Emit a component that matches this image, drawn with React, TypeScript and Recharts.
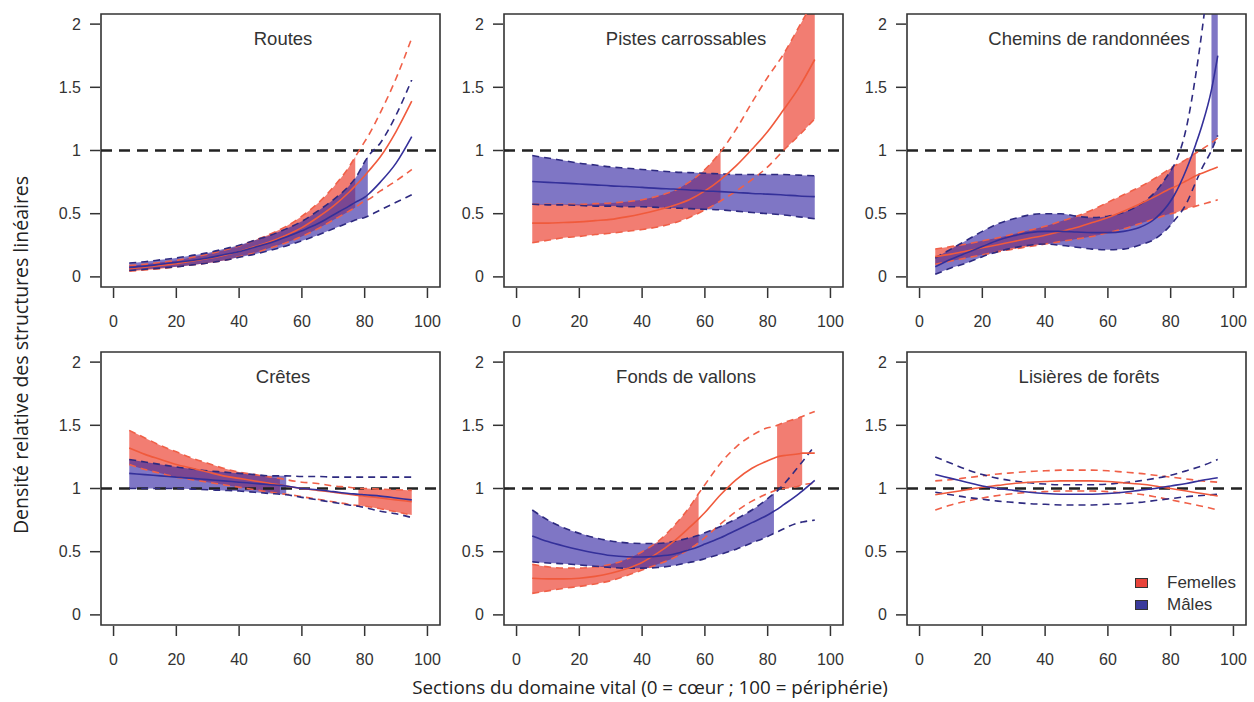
import {
  Area,
  ComposedChart,
  Legend,
  Line,
  ReferenceArea,
  ReferenceDot,
  ReferenceLine,
  XAxis,
  YAxis,
} from "recharts";

const xTicks = [0, 20, 40, 60, 80, 100];
const yTicks = [0, 0.5, 1, 1.5, 2];

// Routes
const routesX = [5, 10, 15, 20, 25, 30, 35, 40, 45, 50, 55, 60, 65, 70, 75, 77, 80, 81, 85, 90, 95];
const routesFMid = [0.065, 0.077, 0.09, 0.105, 0.125, 0.145, 0.17, 0.2, 0.24, 0.28, 0.33, 0.39, 0.47, 0.56, 0.67, 0.72, 0.8, 0.83, 0.95, 1.15, 1.39];
const routesFHigh = [0.09, 0.1, 0.115, 0.13, 0.155, 0.18, 0.21, 0.245, 0.29, 0.34, 0.4, 0.48, 0.58, 0.71, 0.87, 0.95, 1.07, 1.11, 1.3, 1.57, 1.89];
const routesFLow = [0.045, 0.055, 0.065, 0.08, 0.095, 0.11, 0.13, 0.16, 0.19, 0.23, 0.27, 0.32, 0.38, 0.45, 0.52, 0.55, 0.6, 0.61, 0.68, 0.76, 0.85];
const routesMMid = [0.075, 0.085, 0.1, 0.115, 0.13, 0.15, 0.175, 0.2, 0.235, 0.27, 0.315, 0.365, 0.42, 0.49, 0.56, 0.59, 0.63, 0.65, 0.75, 0.9, 1.11];
const routesMHigh = [0.11, 0.12, 0.135, 0.15, 0.17, 0.19, 0.22, 0.25, 0.29, 0.33, 0.38, 0.44, 0.52, 0.61, 0.72, 0.78, 0.91, 0.95, 1.06, 1.28, 1.56];
const routesMLow = [0.05, 0.06, 0.07, 0.08, 0.095, 0.11, 0.13, 0.155, 0.18, 0.21, 0.245, 0.285, 0.33, 0.38, 0.43, 0.45, 0.47, 0.48, 0.53, 0.59, 0.65];
const routesFShade: [number, number][] = [[5, 77]];
const routesMShade: [number, number][] = [[5, 81]];

// Pistes carrossables
const pistesX = [5, 10, 15, 20, 25, 30, 35, 40, 45, 50, 55, 60, 65, 70, 75, 80, 85, 90, 95];
const pistesFMid = [0.425, 0.425, 0.43, 0.435, 0.445, 0.455, 0.475, 0.5, 0.53, 0.565, 0.61, 0.68, 0.77, 0.88, 1.01, 1.15, 1.32, 1.5, 1.72];
const pistesFHigh = [0.575, 0.575, 0.575, 0.575, 0.58, 0.585, 0.595, 0.61, 0.64, 0.68, 0.75, 0.85, 0.99, 1.17, 1.38, 1.58, 1.76, 1.98, 2.2];
const pistesFLow = [0.27, 0.29, 0.31, 0.32, 0.335, 0.345, 0.36, 0.375, 0.395, 0.425, 0.47, 0.53, 0.6, 0.68, 0.77, 0.87, 1.0, 1.12, 1.25];
const pistesMMid = [0.755, 0.748, 0.742, 0.735, 0.728, 0.72, 0.715, 0.708, 0.7, 0.695, 0.688, 0.68, 0.675, 0.668, 0.66, 0.655, 0.648, 0.64, 0.635];
const pistesMHigh = [0.96, 0.94, 0.92, 0.9, 0.885, 0.87, 0.86, 0.85, 0.84, 0.83, 0.825, 0.82, 0.815, 0.81, 0.81, 0.81, 0.81, 0.805, 0.8];
const pistesMLow = [0.575, 0.57, 0.57, 0.565, 0.56, 0.56, 0.555, 0.555, 0.55, 0.545, 0.54, 0.535, 0.53, 0.52, 0.51, 0.5, 0.49, 0.475, 0.46];
const pistesFShade: [number, number][] = [[5, 65], [85, 95]];
const pistesMShade: [number, number][] = [[5, 95]];

// Chemins de randonnées
const cheminsX = [5, 10, 15, 20, 25, 30, 35, 40, 45, 50, 55, 60, 65, 70, 75, 80, 81, 85, 88, 90, 93, 95];
const cheminsFMid = [0.16, 0.18, 0.205, 0.23, 0.255, 0.28, 0.305, 0.33, 0.36, 0.39, 0.43, 0.47, 0.52, 0.575, 0.635, 0.7, 0.71, 0.76, 0.8, 0.82, 0.85, 0.87];
const cheminsFHigh = [0.22, 0.24, 0.26, 0.285, 0.31, 0.34, 0.37, 0.4, 0.44, 0.48, 0.53, 0.59, 0.65, 0.71, 0.78, 0.86, 0.875, 0.93, 0.98, 1.01, 1.06, 1.1];
const cheminsFLow = [0.1, 0.125, 0.15, 0.175, 0.2, 0.22, 0.24, 0.26, 0.28, 0.3, 0.32, 0.35, 0.38, 0.42, 0.46, 0.5, 0.505, 0.54, 0.56, 0.575, 0.595, 0.61];
const cheminsMMid = [0.08, 0.14, 0.19, 0.24, 0.29, 0.325, 0.35, 0.36, 0.36, 0.355, 0.35, 0.35, 0.36, 0.39, 0.46, 0.6, 0.64, 0.85, 1.05, 1.2, 1.48, 1.75];
const cheminsMHigh = [0.15, 0.22, 0.29, 0.36, 0.42, 0.46, 0.49, 0.5, 0.5, 0.48, 0.47, 0.48, 0.51, 0.57, 0.67, 0.84, 0.88, 1.18, 1.6, 1.95, 2.6, 3.2];
const cheminsMLow = [0.02, 0.07, 0.11, 0.16, 0.2, 0.23, 0.25, 0.26, 0.25, 0.235, 0.22, 0.215, 0.22, 0.25, 0.3, 0.41, 0.44, 0.58, 0.75, 0.86, 1.0, 1.12];
const cheminsFShade: [number, number][] = [[5, 88]];
const cheminsMShade: [number, number][] = [[5, 81], [93, 95]];

// Crêtes
const cretesX = [5, 10, 15, 20, 25, 30, 35, 40, 45, 50, 53, 55, 60, 65, 70, 75, 78, 80, 85, 90, 95];
const cretesFMid = [1.32, 1.27, 1.23, 1.19, 1.16, 1.13, 1.1, 1.08, 1.06, 1.04, 1.03, 1.02, 1.0, 0.985, 0.97, 0.955, 0.945, 0.94, 0.925, 0.91, 0.895];
const cretesFHigh = [1.46, 1.4, 1.34, 1.29, 1.24, 1.2, 1.16, 1.13, 1.11, 1.09, 1.08, 1.07, 1.05, 1.04, 1.02, 1.01, 1.0, 1.0, 0.995, 0.99, 0.985];
const cretesFLow = [1.19, 1.15, 1.12, 1.09, 1.07, 1.05, 1.03, 1.01, 0.99, 0.97, 0.96, 0.955, 0.935, 0.915, 0.895, 0.875, 0.865, 0.86, 0.84, 0.815, 0.79];
const cretesMMid = [1.12, 1.11, 1.1, 1.09, 1.08, 1.07, 1.06, 1.05, 1.04, 1.03, 1.025, 1.02, 1.0, 0.99, 0.975, 0.96, 0.955, 0.95, 0.94, 0.925, 0.91];
const cretesMHigh = [1.23, 1.21, 1.19, 1.17, 1.155, 1.14, 1.13, 1.12, 1.11, 1.1, 1.1, 1.1, 1.095, 1.095, 1.09, 1.09, 1.09, 1.09, 1.09, 1.09, 1.09];
const cretesMLow = [1.0, 1.0, 1.0, 1.0, 0.995, 0.99, 0.985, 0.98, 0.97, 0.96, 0.955, 0.95, 0.93, 0.91, 0.89, 0.87, 0.86, 0.85, 0.82, 0.8, 0.77];
const cretesFShade: [number, number][] = [[5, 53], [78, 95]];
const cretesMShade: [number, number][] = [[5, 55]];

// Fonds de vallons
const fondsX = [5, 10, 15, 20, 25, 30, 35, 40, 45, 50, 55, 58, 60, 65, 70, 75, 80, 82, 83, 85, 90, 91, 95];
const fondsFMid = [0.29, 0.285, 0.285, 0.29, 0.305, 0.33, 0.365, 0.415, 0.49, 0.58, 0.69, 0.76, 0.81, 0.95, 1.07, 1.16, 1.22, 1.24, 1.25, 1.26, 1.275, 1.28, 1.28];
const fondsFHigh = [0.4, 0.38, 0.37, 0.37, 0.38, 0.4, 0.44, 0.5, 0.58, 0.7, 0.85, 0.96, 1.03, 1.2, 1.33, 1.42, 1.48, 1.49, 1.5, 1.52, 1.56, 1.57, 1.61];
const fondsFLow = [0.17, 0.19, 0.21, 0.225, 0.245, 0.27, 0.31, 0.355, 0.4, 0.45, 0.52, 0.57, 0.61, 0.72, 0.82, 0.9, 0.96, 0.98, 0.99, 1.0, 1.02, 1.03, 1.04];
const fondsMMid = [0.625, 0.58, 0.545, 0.515, 0.49, 0.47, 0.46, 0.458, 0.465, 0.48, 0.515, 0.54, 0.56, 0.61, 0.67, 0.73, 0.79, 0.82, 0.835, 0.87, 0.96, 0.98, 1.065];
const fondsMHigh = [0.83, 0.75, 0.69, 0.645, 0.61, 0.585, 0.57, 0.565, 0.565, 0.58, 0.61, 0.63, 0.65, 0.7, 0.76, 0.83, 0.92, 0.96, 0.98, 1.03, 1.18, 1.21, 1.34];
const fondsMLow = [0.42, 0.41, 0.405, 0.395, 0.385, 0.375, 0.37, 0.37, 0.375, 0.39, 0.415, 0.43, 0.445, 0.48, 0.52, 0.57, 0.62, 0.645, 0.655, 0.68, 0.73, 0.735, 0.75];
const fondsFShade: [number, number][] = [[5, 58], [83, 91]];
const fondsMShade: [number, number][] = [[5, 82]];

// Lisières de forêts
const lisieresX = [5, 10, 15, 20, 25, 30, 35, 40, 45, 50, 55, 60, 65, 70, 75, 80, 85, 90, 95];
const lisieresFMid = [0.95, 0.97, 0.99, 1.01, 1.025, 1.04, 1.05, 1.055, 1.06, 1.06, 1.06, 1.055, 1.045, 1.035, 1.02, 1.0, 0.98, 0.96, 0.94];
const lisieresFHigh = [1.06, 1.07, 1.085, 1.1, 1.115, 1.125, 1.135, 1.14, 1.145, 1.145, 1.145, 1.14, 1.13, 1.12, 1.105, 1.09, 1.075, 1.06, 1.05];
const lisieresFLow = [0.83, 0.87, 0.9, 0.925, 0.945, 0.96, 0.97, 0.975, 0.98, 0.98, 0.98, 0.975, 0.965, 0.955, 0.935, 0.91, 0.885, 0.86, 0.83];
const lisieresMMid = [1.11, 1.08, 1.05, 1.02, 1.0, 0.985, 0.97, 0.96, 0.955, 0.955, 0.955, 0.96, 0.97, 0.985, 1.0, 1.02, 1.04, 1.065, 1.085];
const lisieresMHigh = [1.25, 1.2, 1.15, 1.11, 1.08, 1.06, 1.045, 1.035, 1.03, 1.03, 1.03, 1.035, 1.045, 1.06, 1.08, 1.105, 1.14, 1.18, 1.23];
const lisieresMLow = [0.97, 0.95, 0.93, 0.915, 0.9, 0.89, 0.88, 0.875, 0.87, 0.87, 0.87, 0.875, 0.88, 0.89, 0.905, 0.92, 0.935, 0.945, 0.955];
const lisieresFShade: [number, number][] = [];
const lisieresMShade: [number, number][] = [];

const F_FILL = "#ec4636";
const M_FILL = "#3628a4";
const F_LINE = "#f05a3c";
const M_LINE = "#34309a";
const F_DASH = "#f06048";
const M_DASH = "#2e2a80";
const TEXT = "#333333";
const SANS = "'Liberation Sans', Arial, Helvetica, sans-serif";
const TITLE_FONT = "'Open Sans', 'Noto Sans', sans-serif";

function inside(v: number, shade: [number, number][]) {
  return shade.some(([a, b]) => v >= a && v <= b);
}

function buildRows(
  x: number[],
  fLow: number[],
  fMid: number[],
  fHigh: number[],
  mLow: number[],
  mMid: number[],
  mHigh: number[],
  fShade: [number, number][],
  mShade: [number, number][]
) {
  return x.map((v, i) => ({
    x: v,
    fLow: fLow[i],
    fMid: fMid[i],
    fHigh: fHigh[i],
    mLow: mLow[i],
    mMid: mMid[i],
    mHigh: mHigh[i],
    fBand: inside(v, fShade) ? [fLow[i], fHigh[i]] : null,
    mBand: inside(v, mShade) ? [mLow[i], mHigh[i]] : null,
  }));
}

const panels = [
  { title: "Routes", rows: buildRows(routesX, routesFLow, routesFMid, routesFHigh, routesMLow, routesMMid, routesMHigh, routesFShade, routesMShade) },
  { title: "Pistes carrossables", rows: buildRows(pistesX, pistesFLow, pistesFMid, pistesFHigh, pistesMLow, pistesMMid, pistesMHigh, pistesFShade, pistesMShade) },
  { title: "Chemins de randonnées", rows: buildRows(cheminsX, cheminsFLow, cheminsFMid, cheminsFHigh, cheminsMLow, cheminsMMid, cheminsMHigh, cheminsFShade, cheminsMShade) },
  { title: "Crêtes", rows: buildRows(cretesX, cretesFLow, cretesFMid, cretesFHigh, cretesMLow, cretesMMid, cretesMHigh, cretesFShade, cretesMShade) },
  { title: "Fonds de vallons", rows: buildRows(fondsX, fondsFLow, fondsFMid, fondsFHigh, fondsMLow, fondsMMid, fondsMHigh, fondsFShade, fondsMShade) },
  { title: "Lisières de forêts", rows: buildRows(lisieresX, lisieresFLow, lisieresFMid, lisieresFHigh, lisieresMLow, lisieresMMid, lisieresMHigh, lisieresFShade, lisieresMShade) },
];

const boxLefts = [101, 504, 907];
const boxTops = [14, 352];

function XTick({ x, y, payload }: any) {
  return (
    <g>
      <line x1={x} x2={x} y1={y + 1} y2={y + 11} stroke={TEXT} strokeWidth={1.5} />
      <text x={x} y={y + 34} textAnchor="middle" dominantBaseline="central" fontSize={16} fill={TEXT} fontFamily={SANS}>
        {payload.value}
      </text>
    </g>
  );
}

function YTick({ x, y, payload }: any) {
  return (
    <g>
      <line x1={x - 11} x2={x - 1} y1={y} y2={y} stroke={TEXT} strokeWidth={1.5} />
      <text x={x - 20} y={y} textAnchor="end" dominantBaseline="central" fontSize={16} fill={TEXT} fontFamily={SANS}>
        {payload.value}
      </text>
    </g>
  );
}

function LegendBox() {
  const item = (color: string, label: string) => (
    <div style={{ display: "flex", alignItems: "center", height: 22 }}>
      <span style={{ display: "inline-block", width: 11, height: 8, background: color, border: "1px solid #333", marginRight: 19 }} />
      <span>{label}</span>
    </div>
  );
  return (
    <div style={{ fontFamily: SANS, fontSize: 17, color: TEXT }}>
      {item("#e8433a", "Femelles")}
      {item("#3a3a9c", "Mâles")}
    </div>
  );
}

function Panel({ index }: { index: number }) {
  const panel = panels[index];
  const left = boxLefts[index % 3] - 60;
  const top = boxTops[Math.floor(index / 3)] - 10;
  const dashed = { type: "monotone" as const, dot: false, activeDot: false, isAnimationActive: false, strokeWidth: 1.6, strokeDasharray: "7 5" };
  const solid = { type: "monotone" as const, dot: false, activeDot: false, isAnimationActive: false, strokeWidth: 1.6 };
  return (
    <div style={{ position: "absolute", left, top }}>
      <ComposedChart width={403} height={328} data={panel.rows} margin={{ top: 10, right: 4, bottom: 0, left: 0 }}>
        <XAxis
          type="number"
          dataKey="x"
          domain={[-4, 104]}
          ticks={xTicks}
          interval={0}
          allowDataOverflow
          axisLine={false}
          tickLine={false}
          tickSize={0}
          tickMargin={0}
          height={45}
          tick={(p: any) => <XTick {...p} />}
        />
        <YAxis
          type="number"
          domain={[-0.08, 2.08]}
          ticks={yTicks}
          interval={0}
          allowDataOverflow
          axisLine={false}
          tickLine={false}
          tickSize={0}
          tickMargin={0}
          width={60}
          tick={(p: any) => <YTick {...p} />}
        />
        <Area dataKey="fBand" type="monotone" stroke="none" fill={F_FILL} fillOpacity={0.7} activeDot={false} isAnimationActive={false} />
        <Area dataKey="mBand" type="monotone" stroke="none" fill={M_FILL} fillOpacity={0.64} activeDot={false} isAnimationActive={false} />
        <ReferenceLine y={1} stroke="#222" strokeWidth={2.6} strokeDasharray="11 7" />
        <Line dataKey="fLow" stroke={F_DASH} {...dashed} />
        <Line dataKey="fHigh" stroke={F_DASH} {...dashed} />
        <Line dataKey="mLow" stroke={M_DASH} {...dashed} />
        <Line dataKey="mHigh" stroke={M_DASH} {...dashed} />
        <Line dataKey="fMid" stroke={F_LINE} {...solid} />
        <Line dataKey="mMid" stroke={M_LINE} {...solid} />
        <ReferenceArea x1={-4} x2={104} y1={-0.08} y2={2.08} fill="none" stroke={TEXT} strokeWidth={1.6} ifOverflow="visible" />
        <ReferenceDot
          x={54}
          y={1.89}
          r={0}
          fill="none"
          stroke="none"
          label={{ value: panel.title, position: "center", fill: TEXT, fontSize: 18.5, fontFamily: SANS }}
        />
        {index === 5 && (
          <Legend
            layout="vertical"
            align="center"
            verticalAlign="middle"
            wrapperStyle={{ left: 288, top: 230, width: 110, height: 44 }}
            content={() => <LegendBox />}
          />
        )}
      </ComposedChart>
    </div>
  );
}

export default function App() {
  return (
    <div style={{ position: "absolute", left: 0, top: 0, width: 1254, height: 702, background: "#fff" }}>
      {panels.map((_, i) => (
        <Panel key={i} index={i} />
      ))}
      <div
        style={{
          position: "absolute",
          left: 20,
          top: 355,
          transform: "translate(-50%, -50%) rotate(-90deg)",
          whiteSpace: "nowrap",
          fontFamily: TITLE_FONT,
          fontSize: 19.5,
          color: "#222",
        }}
      >
        Densité relative des structures linéaires
      </div>
      <div
        style={{
          position: "absolute",
          left: 250,
          width: 800,
          top: 674,
          textAlign: "center",
          lineHeight: "26px",
          fontFamily: TITLE_FONT,
          fontSize: 18.8,
          color: "#222",
        }}
      >
        Sections du domaine vital (0 = cœur ; 100 = périphérie)
      </div>
    </div>
  );
}
